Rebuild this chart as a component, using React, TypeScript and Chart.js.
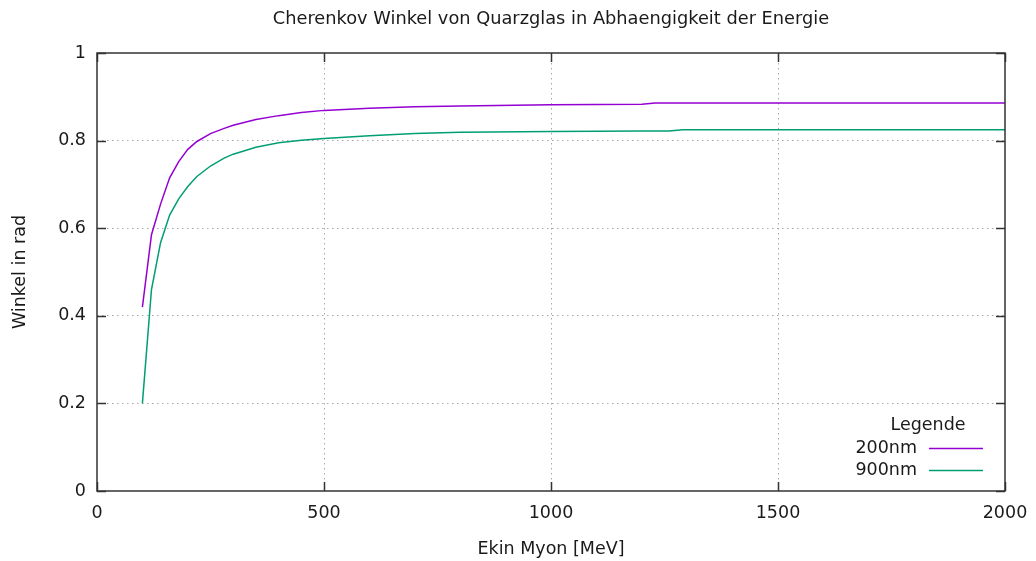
import React, { useEffect, useRef } from "react";
import { Chart, registerables } from "chart.js";

Chart.register(...registerables);

const titleText = "Cherenkov Winkel von Quarzglas in Abhaengigkeit der Energie";
const xTitle = "Ekin Myon [MeV]";
const yTitle = "Winkel in rad";
const legendTitle = "Legende";
const seriesNames = ["200nm", "900nm"];
const seriesColors = ["#9400d3", "#009e73"];

const energies = [100, 120, 140, 160, 180, 200, 220, 250, 280, 300, 350, 400, 450, 500, 600, 700, 800, 1000, 1200, 1230, 1260, 1290, 1500, 2000];
const angle200 = [0.42, 0.585, 0.655, 0.715, 0.752, 0.78, 0.798, 0.816, 0.828, 0.835, 0.848, 0.857, 0.864, 0.869, 0.874, 0.877, 0.879, 0.882, 0.883, 0.886, 0.886, 0.886, 0.886, 0.886];
const angle900 = [0.2, 0.46, 0.567, 0.63, 0.667, 0.695, 0.718, 0.742, 0.76, 0.769, 0.785, 0.795, 0.801, 0.805, 0.811, 0.816, 0.819, 0.821, 0.822, 0.822, 0.822, 0.825, 0.825, 0.825];

const FONT = "'DejaVu Sans', sans-serif";
const FS = 17.5;
const TEXT = "#1a1a1a";

const framePlugin = {
  id: "gnuframe",
  afterDatasetsDraw(chart: any) {
    const { ctx, chartArea: a, scales } = chart;
    ctx.save();
    ctx.strokeStyle = "#333";
    ctx.lineWidth = 1.5;
    const tl = 9;
    scales.x.ticks.forEach((t: any) => {
      const px = Math.round(scales.x.getPixelForValue(t.value)) + 0.5;
      ctx.beginPath();
      ctx.moveTo(px, a.bottom); ctx.lineTo(px, a.bottom - tl);
      ctx.moveTo(px, a.top); ctx.lineTo(px, a.top + tl);
      ctx.stroke();
    });
    scales.y.ticks.forEach((t: any) => {
      const py = Math.round(scales.y.getPixelForValue(t.value)) + 0.5;
      ctx.beginPath();
      ctx.moveTo(a.left, py); ctx.lineTo(a.left + tl, py);
      ctx.moveTo(a.right, py); ctx.lineTo(a.right - tl, py);
      ctx.stroke();
    });
    ctx.strokeRect(a.left, a.top, a.right - a.left, a.bottom - a.top);

    ctx.fillStyle = TEXT;
    ctx.font = "17.8px " + FONT;
    ctx.textAlign = "center";
    ctx.textBaseline = "middle";
    ctx.fillText(titleText, 551, 19);

    ctx.font = FS + "px " + FONT;
    ctx.fillText(legendTitle, 928, 425);
    const rows = [448, 470];
    seriesNames.forEach((n, i) => {
      ctx.textAlign = "right";
      ctx.fillStyle = TEXT;
      ctx.fillText(n, 917, rows[i]);
      ctx.strokeStyle = seriesColors[i];
      ctx.lineWidth = 1.5;
      ctx.beginPath();
      ctx.moveTo(929, rows[i] + 0.5);
      ctx.lineTo(983, rows[i] + 0.5);
      ctx.stroke();
    });
    ctx.restore();
  },
};

export default function App() {
  const ref = useRef<HTMLCanvasElement | null>(null);
  useEffect(() => {
    document.body.style.margin = "0";
    const mkData = (vals: number[]) => energies.map((e, i) => ({ x: e, y: vals[i] }));
    const gridColor = (c: any) => {
      const n = c.scale.ticks.length;
      return c.index === 0 || c.index === n - 1 ? "rgba(0,0,0,0)" : "#a8a8a8";
    };
    const chart = new Chart(ref.current!, {
      type: "line",
      data: {
        datasets: [
          { label: seriesNames[0], data: mkData(angle200), borderColor: seriesColors[0], borderWidth: 1.5, pointRadius: 0, tension: 0, fill: false },
          { label: seriesNames[1], data: mkData(angle900), borderColor: seriesColors[1], borderWidth: 1.5, pointRadius: 0, tension: 0, fill: false },
        ],
      },
      options: {
        responsive: false,
        animation: false,
        layout: { padding: { left: 0, right: 31, top: 53, bottom: 0 } },
        plugins: { legend: { display: false }, title: { display: false }, tooltip: { enabled: false } },
        scales: {
          x: {
            type: "linear",
            min: 0,
            max: 2000,
            ticks: { stepSize: 500, color: TEXT, font: { family: FONT, size: FS }, padding: 12, maxRotation: 0, callback: (v: any) => String(v) },
            grid: { color: gridColor, lineWidth: 1, drawTicks: false },
            border: { display: false, dash: [1.5, 3.5] },
            title: { display: true, text: xTitle, color: TEXT, font: { family: FONT, size: FS }, padding: { top: 0, bottom: 1.5 } },
            afterFit: (s: any) => { s.height = 70; s.paddingLeft = 0; s.paddingRight = 0; },
          },
          y: {
            type: "linear",
            min: 0,
            max: 1,
            ticks: { stepSize: 0.2, color: TEXT, font: { family: FONT, size: FS }, padding: 11, callback: (v: any) => String(Math.round(v * 10) / 10) },
            grid: { color: gridColor, lineWidth: 1, drawTicks: false },
            border: { display: false, dash: [1.5, 3.5] },
            title: { display: true, text: yTitle, color: TEXT, font: { family: FONT, size: FS }, padding: { top: 9.5, bottom: 0 } },
            afterFit: (s: any) => { s.width = 97; s.paddingTop = 0; s.paddingBottom = 0; },
          },
        },
      },
      plugins: [framePlugin],
    });
    return () => chart.destroy();
  }, []);
  return (
    <div style={{ position: "absolute", left: 0, top: 0, width: 1036, height: 561, background: "#fff" }}>
      <canvas ref={ref} width={1036} height={561} />
    </div>
  );
}
